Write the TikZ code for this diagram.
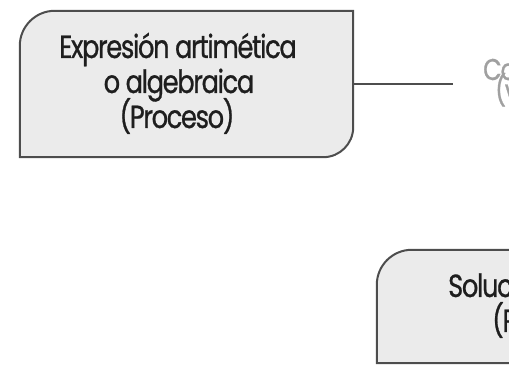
\documentclass[tikz,border=0pt]{standalone}
\usepackage{fontspec}
\setmainfont{Poppins}[FakeStretch=0.8, LetterSpace=-4, FakeBold=0.8]
\usetikzlibrary{calc}
\definecolor{cardfill}{HTML}{EBEBEB}
\definecolor{cardline}{HTML}{4D4D4D}
\definecolor{cardtext}{HTML}{1E1E1E}
\definecolor{fadedtext}{HTML}{A0A0A0}
\tikzset{
  card/.style={draw=cardline, line width=2pt, fill=cardfill},
  cardslot/.style={inner sep=0pt, draw=none},
  cardlabel/.style={font=\fontsize{32}{36}\selectfont, text=cardtext, inner sep=0pt, anchor=base},
  fadedlabel/.style={font=\fontsize{30}{30}\selectfont, text=fadedtext, inner sep=0pt, anchor=base west},
  link/.style={draw=cardline, line width=2pt},
}
\begin{document}
\begin{tikzpicture}[x=1pt,y=1pt]
\useasboundingbox (0,0) rectangle (509,367);
\clip (0,0) rectangle (509,367);

% upper card: rounded top-left and bottom-right corners
\node[cardslot, minimum width=333pt, minimum height=146pt] (proc) at (186.5,283) {};
\path[card] (proc.south west) -- ([yshift=-35pt]proc.north west)
  arc[start angle=180, end angle=90, radius=35pt]
  -- (proc.north east) -- ([yshift=30pt]proc.south east)
  arc[start angle=0, end angle=-90, radius=30pt] -- cycle;
\node[cardlabel] (procA) at (178,309) {Expresión artimética};
\node[cardlabel] (procB) at (179,274) {o algebraica};
\node[cardlabel] (procC) at (177,239) {(Proceso)};

% connector to the faded label on the right
\coordinate (linkend) at (453,283);
\draw[link] (proc.east) -- (linkend);
\node[fadedlabel] (fadeA) at (483,287) {Co};
\node[fadedlabel] (fadeB) at (495,266) {(v};

% lower card, running off the right and bottom
\node[cardslot, minimum width=200pt, minimum height=113pt] (sol) at (477,60.5) {};
\path[card] (sol.south west) -- ([yshift=-35pt]sol.north west)
  arc[start angle=180, end angle=90, radius=35pt]
  -- (sol.north east) -- (sol.south east) -- cycle;
\node[cardlabel, anchor=base west] (solA) at (448,70) {Soluc};
\node[cardlabel, anchor=base west] (solB) at (492,35) {(P};
\end{tikzpicture}
\end{document}
